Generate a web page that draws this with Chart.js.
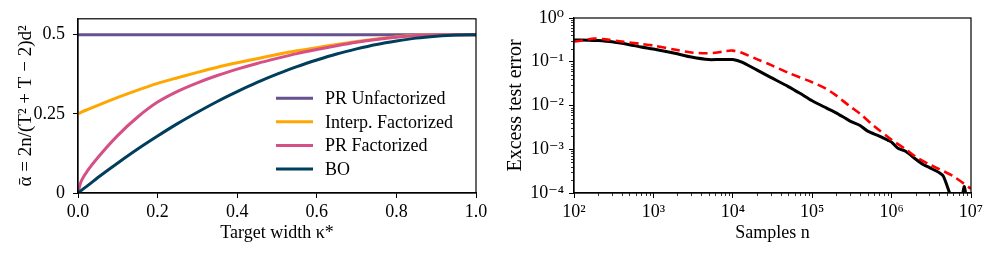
<!DOCTYPE html>
<html><head><meta charset="utf-8">
<script src="https://cdn.jsdelivr.net/npm/chart.js@4.4.0/dist/chart.umd.min.js"></script>
<style>
html,body{margin:0;padding:0;background:#fff;}
#wrap{position:relative;width:996px;height:254px;}
.c{position:absolute;top:0;width:498px;height:254px;}
</style></head><body>
<div id="wrap">
<div class="c" style="left:0"><canvas id="left" width="498" height="254"></canvas></div>
<div class="c" style="left:498px"><canvas id="right" width="498" height="254"></canvas></div>
</div>
<script>
// ---------- Left panel data ----------
const kappa = [0, 0.005, 0.01, 0.025, 0.05, 0.1, 0.15, 0.2, 0.25, 0.3, 0.35, 0.4, 0.45, 0.5, 0.55, 0.6, 0.65, 0.7, 0.75, 0.8, 0.85, 0.9, 0.95, 1.0];
const prUnfactorized = [0.5, 0.5, 0.5, 0.5, 0.5, 0.5, 0.5, 0.5, 0.5, 0.5, 0.5, 0.5, 0.5, 0.5, 0.5, 0.5, 0.5, 0.5, 0.5, 0.5, 0.5, 0.5, 0.5, 0.5];
const interpFactorized = [0.25, 0.253, 0.256, 0.264, 0.277, 0.302, 0.325, 0.346, 0.364, 0.381, 0.397, 0.411, 0.424, 0.437, 0.449, 0.459, 0.469, 0.478, 0.486, 0.493, 0.498, 0.5, 0.5, 0.5];
const prFactorized = [0, 0.026, 0.042, 0.072, 0.112, 0.182, 0.24, 0.287, 0.321, 0.348, 0.371, 0.391, 0.409, 0.425, 0.44, 0.453, 0.465, 0.476, 0.485, 0.492, 0.497, 0.5, 0.5, 0.5];
const bo = [0, 0.005, 0.01, 0.024, 0.049, 0.095, 0.139, 0.18, 0.219, 0.255, 0.289, 0.32, 0.349, 0.375, 0.399, 0.42, 0.439, 0.455, 0.469, 0.48, 0.489, 0.495, 0.499, 0.5];
const leftSeriesLabels = ['PR Unfactorized', 'Interp. Factorized', 'PR Factorized', 'BO'];
const leftXTicks = [0, 0.2, 0.4, 0.6, 0.8, 1.0];
const leftXTickLabels = ['0.0', '0.2', '0.4', '0.6', '0.8', '1.0'];
const leftYTicks = [0, 0.25, 0.5];
const leftYTickLabels = ['0', '0.25', '0.5'];

// ---------- Right panel data ----------
const samplesBlack = [100, 150, 200, 300, 500, 700, 1000, 1500, 2000, 3000, 5000, 7000, 10000, 13000, 20000, 30000, 50000, 70000, 100000, 150000, 200000, 300000, 400000, 500000, 700000, 900000, 1000000, 1200000, 1500000, 2000000, 2500000, 3000000, 4000000, 4500000, 5500000, 6500000, 7600000, 8200000, 8800000, 10000000];
const errorBlack = [0.315, 0.312, 0.305, 0.285, 0.245, 0.218, 0.196, 0.17, 0.152, 0.128, 0.112, 0.113, 0.112, 0.098, 0.065, 0.044, 0.027, 0.019, 0.0128, 0.0088, 0.0068, 0.0044, 0.0035, 0.0026, 0.002, 0.0016, 0.00145, 0.00105, 0.0009, 0.0006, 0.00045, 0.00038, 0.00029, 0.00024, 0.00009, 0.00005, 0.00007, 0.00014, 0.00008, 0.00005];
const samplesRed = [100, 130, 180, 250, 400, 700, 1000, 2000, 3000, 4500, 6000, 8000, 10000, 13000, 20000, 30000, 50000, 100000, 150000, 200000, 300000, 400000, 600000, 1000000, 1500000, 2000000, 3000000, 4000000, 6000000, 10000000];
const errorRed = [0.29, 0.305, 0.34, 0.325, 0.29, 0.255, 0.235, 0.185, 0.163, 0.156, 0.16, 0.175, 0.18, 0.16, 0.115, 0.085, 0.056, 0.034, 0.024, 0.017, 0.0095, 0.0065, 0.0034, 0.00165, 0.001, 0.00068, 0.00045, 0.00035, 0.00024, 0.000125];
const rightXMajor = [1e2, 1e3, 1e4, 1e5, 1e6, 1e7];
const rightXMajorLabels = ['10²', '10³', '10⁴', '10⁵', '10⁶', '10⁷'];
const rightYMajor = [1e-4, 1e-3, 1e-2, 1e-1, 1];
const rightYMajorLabels = ['10⁻⁴', '10⁻³', '10⁻²', '10⁻¹', '10⁰'];

// ---------- styling ----------
const FAMILY = "'Liberation Serif', 'DejaVu Serif', serif";
const FONT = {family: FAMILY, size: 18};
const FONT_CSS = "18px " + FAMILY;
const leftColors = ['#665191', '#ffa600', '#d45087', '#003f5c'];

const frame = {
  id: 'frame',
  afterDraw(chart) {
    const {ctx, chartArea: a} = chart;
    ctx.save();
    ctx.strokeStyle = '#000';
    ctx.lineWidth = 1.2;
    ctx.strokeRect(a.left, a.top, a.right - a.left, a.bottom - a.top);
    ctx.restore();
  }
};

const minorTicks = {
  id: 'minorTicks',
  afterDraw(chart) {
    const {ctx, chartArea: a} = chart;
    ctx.save();
    ctx.strokeStyle = '#000';
    ctx.lineWidth = 0.8;
    const xs = chart.scales.x, ys = chart.scales.y;
    xs.ticks.forEach(t => {
      if (t.major) return;
      const p = Math.round(xs.getPixelForValue(t.value)) + 0.5;
      ctx.beginPath(); ctx.moveTo(p, a.bottom); ctx.lineTo(p, a.bottom + 3); ctx.stroke();
    });
    ys.ticks.forEach(t => {
      if (t.major) return;
      const p = Math.round(ys.getPixelForValue(t.value)) + 0.5;
      ctx.beginPath(); ctx.moveTo(a.left, p); ctx.lineTo(a.left - 3, p); ctx.stroke();
    });
    ctx.restore();
  }
};

const insideLegend = {
  id: 'insideLegend',
  afterDatasetsDraw(chart, args, opts) {
    if (!opts || !opts.show) return;
    const {ctx, chartArea: a} = chart;
    const ds = chart.data.datasets;
    const n = ds.length;
    ctx.save();
    ctx.font = FONT_CSS;
    ctx.textBaseline = 'middle';
    ctx.textAlign = 'left';
    ds.forEach((d, i) => {
      const y = a.bottom - opts.bottomGap - (n - 1 - i) * opts.rowGap;
      const x0 = a.right - opts.fromRight;
      ctx.strokeStyle = d.borderColor;
      ctx.lineWidth = d.borderWidth;
      ctx.beginPath(); ctx.moveTo(x0, y); ctx.lineTo(x0 + opts.lineLen, y); ctx.stroke();
      ctx.fillStyle = '#000';
      ctx.fillText(d.label, x0 + opts.lineLen + opts.textGap, y + 1);
    });
    ctx.restore();
  }
};

function pts(xs, ys) { return xs.map((x, i) => ({x: x, y: ys[i]})); }

// ---------- Left chart ----------
const leftSeries = [prUnfactorized, interpFactorized, prFactorized, bo];
new Chart(document.getElementById('left'), {
  type: 'line',
  data: {
    datasets: leftSeries.map((s, i) => ({
      label: leftSeriesLabels[i],
      data: pts(kappa, s),
      borderColor: leftColors[i],
      backgroundColor: leftColors[i],
      borderWidth: 3,
      pointRadius: 0,
      cubicInterpolationMode: 'monotone',
      fill: false,
      order: 4 - i
    }))
  },
  options: {
    responsive: false,
    animation: false,
    events: [],
    layout: {padding: {top: 17, right: 22, bottom: 0, left: 0}},
    plugins: {legend: {display: false}, tooltip: {enabled: false},
      insideLegend: {show: true, fromRight: 200, lineLen: 37, textGap: 12, bottomGap: 24, rowGap: 23.6}},
    scales: {
      x: {
        type: 'linear', min: 0, max: 1,
        afterBuildTicks: s => { s.ticks = leftXTicks.map(v => ({value: v, major: true})); },
        afterFit: s => { s.height = 61; },
        ticks: {callback: (v, i) => leftXTickLabels[i], font: FONT, color: '#000', padding: 3, maxRotation: 0, autoSkip: false},
        grid: {drawOnChartArea: false, drawTicks: true, tickLength: 5, color: '#000', tickWidth: 1},
        border: {display: true, color: '#000', width: 1.2},
        title: {display: true, text: 'Target width κ*', font: FONT, color: '#000', padding: {top: 0, bottom: 10}}
      },
      y: {
        type: 'linear', min: 0, max: 0.55,
        afterBuildTicks: s => { s.ticks = leftYTicks.map(v => ({value: v, major: true})); },
        afterFit: s => { s.width = 78; },
        ticks: {callback: (v, i) => leftYTickLabels[i], font: FONT, color: '#000', padding: 8, autoSkip: false},
        grid: {drawOnChartArea: false, drawTicks: true, tickLength: 5, color: '#000', tickWidth: 1},
        border: {display: true, color: '#000', width: 1.2},
        title: {display: true, text: 'ᾱ = 2n/(T² + T − 2)d²', font: {family: FAMILY, size: 19}, color: '#000', padding: {top: 15, bottom: 0}}
      }
    }
  },
  plugins: [insideLegend, frame]
});

// ---------- Right chart ----------
function logTicks(lo, hi) {
  const out = [];
  for (let e = Math.round(Math.log10(lo)); e <= Math.round(Math.log10(hi)); e++) {
    for (let m = 1; m <= 9; m++) {
      const v = m * Math.pow(10, e);
      if (v < lo * 0.999 || v > hi * 1.001) continue;
      out.push({value: v, major: m === 1});
    }
  }
  return out;
}
function majorLabel(v, majors, labels) {
  for (let i = 0; i < majors.length; i++) if (Math.abs(Math.log10(v) - Math.log10(majors[i])) < 1e-6) return labels[i];
  return '';
}

new Chart(document.getElementById('right'), {
  type: 'line',
  data: {
    datasets: [
      {label: 'Experiment', data: pts(samplesBlack, errorBlack), borderColor: '#000', borderWidth: 3, pointRadius: 0, tension: 0.25, fill: false, order: 2},
      {label: 'Theory', data: pts(samplesRed, errorRed), borderColor: '#ff0000', borderWidth: 2.6, borderDash: [9, 5], pointRadius: 0, tension: 0.3, fill: false, order: 1}
    ]
  },
  options: {
    responsive: false,
    animation: false,
    events: [],
    layout: {padding: {top: 18, right: 25, bottom: 0, left: 0}},
    plugins: {legend: {display: false}, tooltip: {enabled: false}},
    scales: {
      x: {
        type: 'logarithmic', min: 1e2, max: 1e7,
        afterBuildTicks: s => { s.ticks = logTicks(1e2, 1e7); },
        afterFit: s => { s.height = 61; },
        ticks: {callback: v => majorLabel(v, rightXMajor, rightXMajorLabels), font: FONT, color: '#000', padding: 3, maxRotation: 0, autoSkip: false},
        grid: {drawOnChartArea: false, drawTicks: true, tickLength: 5, tickColor: c => (c.tick && c.tick.major) ? '#000' : 'rgba(0,0,0,0)', tickWidth: 1},
        border: {display: true, color: '#000', width: 1.2},
        title: {display: true, text: 'Samples n', font: FONT, color: '#000', padding: {top: 0, bottom: 10}}
      },
      y: {
        type: 'logarithmic', min: 1e-4, max: 1,
        afterBuildTicks: s => { s.ticks = logTicks(1e-4, 1); },
        afterFit: s => { s.width = 76; },
        ticks: {callback: v => majorLabel(v, rightYMajor, rightYMajorLabels), font: FONT, color: '#000', padding: 5, autoSkip: false},
        grid: {drawOnChartArea: false, drawTicks: true, tickLength: 5, tickColor: c => (c.tick && c.tick.major) ? '#000' : 'rgba(0,0,0,0)', tickWidth: 1},
        border: {display: true, color: '#000', width: 1.2},
        title: {display: true, text: 'Excess test error', font: {family: FAMILY, size: 20}, color: '#000', padding: {top: 6, bottom: 0}}
      }
    }
  },
  plugins: [frame, minorTicks]
});
</script>
</body></html>
